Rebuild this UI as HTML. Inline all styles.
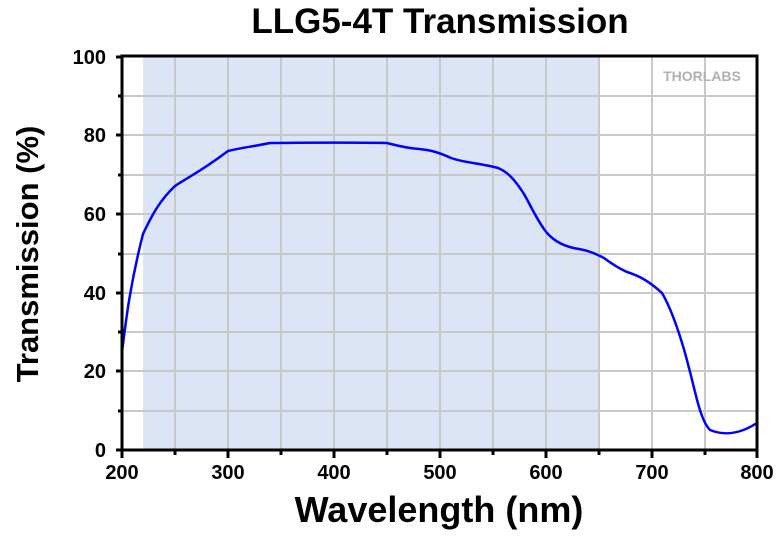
<!DOCTYPE html><html><head><style>body{margin:0;background:#fff}</style></head><body>
<svg width="780" height="532" xmlns="http://www.w3.org/2000/svg" font-family="Liberation Sans, sans-serif" font-weight="bold">
<text x="440" y="33" font-size="35" text-anchor="middle">LLG5-4T Transmission</text>
<rect x="143" y="57" width="455" height="393" fill="#dce5f6"/>
<g stroke="#c8c8c8" stroke-width="2">
<path d="M175 57V450M228 57V450M281 57V450M334 57V450M387 57V450M440 57V450M493 57V450M546 57V450M599 57V450M652 57V450M705 57V450"/>
<path d="M122 96H757M122 135H757M122 175H757M122 214H757M122 254H757M122 293H757M122 332H757M122 371H757M122 411H757"/>
</g>
<text x="702" y="81" font-size="14" fill="#b0b0b0" text-anchor="middle">THORLABS</text>
<path fill="none" stroke="#0000ff" stroke-width="2.5" d="M122 352 C126 320 130 285 143 234 C152 215 160 200 175 186 C190 176 200 172 228 151 C240 148 250 147 270 143 C300 143 330 142 387 143 C395 145 405 148 419 149 C430 150 438 152 451 158 C465 163 480 163 498 168 C508 172 515 180 524 194 C532 208 538 222 547 233 C555 242 565 247 579 249 C590 251 596 254 604 258 C612 264 618 268 627 272 C640 276 650 282 662 293 C672 310 682 340 689 368 C695 390 700 420 710 430 C725 436 740 434 757 423"/>
<g stroke="#000" stroke-width="3" fill="none">
<path d="M122 450H757V56H122Z"/>
<path d="M116 450H122M116 371H122M116 293H122M116 214H122M116 135H122M116 57H122M118 411H122M118 332H122M118 254H122M118 175H122M118 96H122"/>
<path d="M122 450V458M228 450V458M334 450V458M440 450V458M546 450V458M652 450V458M757 450V458M175 450V455M281 450V455M387 450V455M493 450V455M599 450V455M705 450V455"/>
</g>
<g font-size="20" text-anchor="end">
<text x="106" y="457">0</text><text x="106" y="378">20</text><text x="106" y="300">40</text><text x="106" y="221">60</text><text x="106" y="142">80</text><text x="106" y="64">100</text>
</g>
<g font-size="20" text-anchor="middle">
<text x="122" y="479">200</text><text x="228" y="479">300</text><text x="334" y="479">400</text><text x="440" y="479">500</text><text x="546" y="479">600</text><text x="652" y="479">700</text><text x="757" y="479">800</text>
</g>
<text x="439" y="522" font-size="36" text-anchor="middle">Wavelength (nm)</text>
<text transform="translate(38 254) rotate(-90)" font-size="31" text-anchor="middle">Transmission (%)</text>
</svg></body></html>
